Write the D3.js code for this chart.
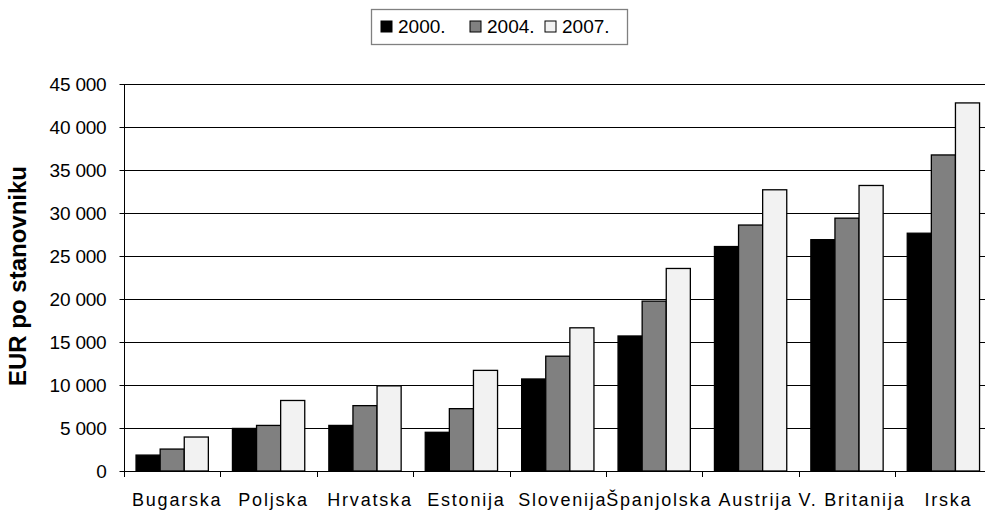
<!DOCTYPE html>
<html>
<head>
<meta charset="utf-8">
<script src="https://cdn.jsdelivr.net/npm/d3@7"></script>
<style>
  body { margin: 0; background: #fff; }
  text { font-family: "Liberation Sans", Arial, sans-serif; fill: #000; }
</style>
</head>
<body>
<svg id="chart" width="985" height="511"></svg>
<script>
var categories = ["Bugarska", "Poljska", "Hrvatska", "Estonija", "Slovenija", "Španjolska", "Austrija", "V. Britanija", "Irska"];
var seriesNames = ["2000.", "2004.", "2007."];
var values2000 = [1850, 4950, 5300, 4500, 10700, 15700, 26100, 26900, 27650];
var values2004 = [2550, 5300, 7600, 7250, 13350, 19750, 28600, 29400, 36750];
var values2007 = [3950, 8200, 9900, 11700, 16650, 23550, 32700, 33200, 42800];
var yTicks = [0, 5000, 10000, 15000, 20000, 25000, 30000, 35000, 40000, 45000];
var fills = ["#000000", "#808080", "#f2f2f2"];

(function () {
var svg = d3.select("#chart");
var pLeft = 124, pRight = 991.6, pTop = 84, pBottom = 471;

var x = d3.scaleBand().domain(categories).range([pLeft, pRight]);
var xs = d3.scaleBand().domain(seriesNames).range([0, x.bandwidth()]).paddingInner(0).paddingOuter(0.5);
var y = d3.scaleLinear().domain([0, 45000]).range([pBottom, pTop]);

var fmt = function (v) { return d3.format(",")(v).replace(/,/g, " "); };

// gridlines
svg.append("g").selectAll("line").data(yTicks.slice(1)).join("line")
    .attr("x1", pLeft).attr("x2", pRight)
    .attr("y1", function (d) { return Math.round(y(d)) + 0.5; })
    .attr("y2", function (d) { return Math.round(y(d)) + 0.5; })
    .attr("stroke", "#000").attr("stroke-width", 1);

// bars
var rows = categories.map(function (c, i) {
    return { cat: c, vals: [values2000[i], values2004[i], values2007[i]] };
});
var groups = svg.append("g").selectAll("g").data(rows).join("g")
    .attr("transform", function (d) { return "translate(" + x(d.cat) + ",0)"; });
groups.selectAll("rect").data(function (d) {
        return d.vals.map(function (v, j) { return { s: seriesNames[j], v: v, j: j }; });
    }).join("rect")
    .attr("x", function (d) { return xs(d.s); })
    .attr("width", xs.bandwidth())
    .attr("y", function (d) { return y(d.v); })
    .attr("height", function (d) { return pBottom - y(d.v); })
    .attr("fill", function (d) { return fills[d.j]; })
    .attr("stroke", "#000").attr("stroke-width", 1.3);

// y axis
var yAxis = d3.axisLeft(y).tickValues(yTicks).tickFormat(fmt).tickSize(5).tickPadding(13);
var ya = svg.append("g").attr("transform", "translate(" + (pLeft + 0.5) + ",0)").call(yAxis);
ya.select(".domain").attr("stroke", "#000").attr("d", "M0," + pTop + "V" + pBottom);
ya.selectAll(".tick line").attr("stroke", "#000");
ya.selectAll(".tick text").attr("font-size", "19px").attr("font-family", "Liberation Sans, Arial, sans-serif")
    .attr("fill", "#000").attr("dy", "0.35em").attr("letter-spacing", "-0.2px");

// x axis
svg.append("line").attr("x1", pLeft).attr("x2", pRight).attr("y1", pBottom + 0.5).attr("y2", pBottom + 0.5).attr("stroke", "#000");
svg.append("g").selectAll("line").data(d3.range(categories.length + 1)).join("line")
    .attr("x1", function (i) { return Math.round(pLeft + i * x.bandwidth()) + 0.5; })
    .attr("x2", function (i) { return Math.round(pLeft + i * x.bandwidth()) + 0.5; })
    .attr("y1", pBottom).attr("y2", pBottom + 6).attr("stroke", "#000");
svg.append("g").selectAll("text").data(categories).join("text")
    .attr("x", function (d) { return x(d) + x.bandwidth() / 2 + 5; })
    .attr("y", 506)
    .attr("text-anchor", "middle")
    .attr("font-size", "18px")
    .attr("letter-spacing", "1.8px")
    .text(function (d) { return d; });

// y title
svg.append("text")
    .attr("transform", "translate(26,276) rotate(-90)")
    .attr("text-anchor", "middle")
    .attr("font-size", "24px").attr("font-weight", "bold")
    .text("EUR po stanovniku");

// legend
var lg = svg.append("g");
lg.append("rect").attr("x", 371.5).attr("y", 9.5).attr("width", 256).attr("height", 35)
    .attr("fill", "#fff").attr("stroke", "#808080").attr("stroke-width", 1.3);
var legX = [381, 470, 545];
seriesNames.forEach(function (s, j) {
    lg.append("rect").attr("x", legX[j]).attr("y", 21).attr("width", 11).attr("height", 11)
        .attr("fill", fills[j]).attr("stroke", "#000").attr("stroke-width", 1);
    lg.append("text").attr("x", legX[j] + 17).attr("y", 33).attr("font-size", "19px")
        .text(s);
});
})();
</script>
</body>
</html>
